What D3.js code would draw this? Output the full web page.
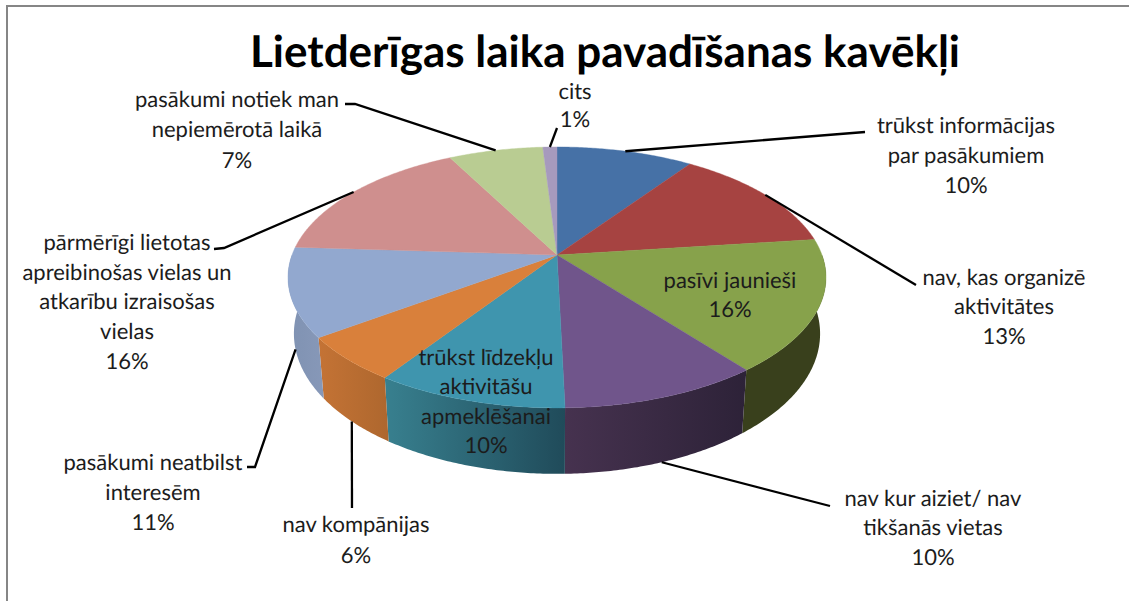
<!DOCTYPE html>
<html><head><meta charset="utf-8">
<script src="https://cdn.jsdelivr.net/npm/d3@7"></script>
<style>html,body{margin:0;padding:0;background:#fff}svg{display:block}text{font-family:Lato,"Open Sans",sans-serif;text-rendering:geometricPrecision}</style>
</head><body><svg id="c" width="1129" height="601"></svg>
<script>
const title = "Lietderīgas laika pavadīšanas kavēkļi";
const categories = [
  ["trūkst informācijas","par pasākumiem"],
  ["nav, kas organizē","aktivitātes"],
  ["pasīvi jaunieši"],
  ["nav kur aiziet/ nav","tikšanās vietas"],
  ["trūkst līdzekļu","aktivitāšu","apmeklēšanai"],
  ["nav kompānijas"],
  ["pasākumi neatbilst","interesēm"],
  ["pārmērīgi lietotas","apreibinošas vielas un","atkarību izraisošas","vielas"],
  ["pasākumi notiek man","nepiemērotā laikā"],
  ["cits"]
];
const values = [9.7,13.3,16.4,10.2,9.8,5.6,11,16.3,6.7,1.0];
const topColors = ["#4671A6","#A64341","#87A24B","#70558B","#3F95AE","#D9803B","#92A8CF","#CF8F8E","#B9CC92","#A69ABD"];
const wallLeft  = ["#345","#633","#39401C","#46324F","#38808F","#C47335","#7F92B2","#a66","#8a9","#768"];
const wallRight = ["#345","#633","#39401C","#2D2238","#204B5A","#AE672E","#8798B8","#a66","#8a9","#768"];
// label layout: centre x, first line y, line step
const labelX = [966,1004,730,933,486,356,153,127,237,575];
const labelY = [125,277,280,498,357,524,462,242,99,91];
const labelStep = [30,29.5,29,29.5,29.5,31,30,29.8,30.5,28.5];
// leader bends after leaving the pie (empty = no leader)
const leaderBends = [
  [[865,132]],
  [[916,285]],
  [],
  [[830,506]],
  [],
  [[352,508]],
  [[255,467],[247,467]],
  [[224,248],[214,249]],
  [[355,104],[345,104]],
  [[557,128]]
];

const svg = d3.select("#c");
const defs = svg.append("defs");
const cx=557, cy=255, A=265, B=126.6, P=0.172, D=54.6, shrink=0.978;

const pie = d3.pie().sort(null).startAngle(0).endAngle(2*Math.PI);
const arcs = pie(values);

function ring(a){ const x=Math.sin(a), y=-Math.cos(a), s=1/(1-P*y);
  return [cx+A*x*s, cy+B*y*s, s]; }
function bottom(a){ const [X,Y,s]=ring(a); return [cx+shrink*(X-cx), Y+D*s]; }
function samples(a0,a1){ const n=Math.max(2,Math.ceil((a1-a0)/0.01)); 
  return d3.range(n+1).map(i=>a0+(a1-a0)*i/n); }
const line=d3.line();

svg.append("rect").attr("width",1129).attr("height",601).attr("fill","#fff");
svg.append("path").attr("d","M7 601V6H1129").attr("fill","none").attr("stroke","#868686").attr("stroke-width",2);

// side walls (front half only)
arcs.forEach((d,i)=>{
  const a0=Math.max(d.startAngle,Math.PI/2), a1=Math.min(d.endAngle,Math.PI*1.5);
  if(a1<=a0) return;
  const t=samples(a0,a1);
  const pts=t.map(a=>ring(a).slice(0,2)).concat(t.slice().reverse().map(bottom));
  const xs=pts.map(p=>p[0]);
  const g=defs.append("linearGradient").attr("id","w"+i).attr("gradientUnits","userSpaceOnUse")
    .attr("x1",d3.min(xs)).attr("x2",d3.max(xs)).attr("y1",0).attr("y2",0);
  g.append("stop").attr("offset",0).attr("stop-color",wallLeft[i]);
  g.append("stop").attr("offset",1).attr("stop-color",wallRight[i]);
  svg.append("path").attr("d",line(pts)+"Z").attr("fill",`url(#w${i})`);
});
// top face
arcs.forEach((d,i)=>{
  const pts=[[cx,cy]].concat(samples(d.startAngle,d.endAngle).map(a=>ring(a).slice(0,2)));
  svg.append("path").attr("d",line(pts)+"Z").attr("fill",topColors[i]).attr("stroke",topColors[i]).attr("stroke-width",0.4);
});
// leaders
arcs.forEach((d,i)=>{
  if(!leaderBends[i].length) return;
  const m=(d.startAngle+d.endAngle)/2;
  const start=(-Math.cos(m)>0)?bottom(m):ring(m).slice(0,2);
  svg.append("path").attr("d",line([start].concat(leaderBends[i]))).attr("fill","none")
    .attr("stroke","#000").attr("stroke-width",2.3);
});
// labels
const fmt=v=>Math.round(v)+"%";
categories.forEach((lines,i)=>{
  lines.concat([fmt(values[i])]).forEach((s,j)=>{
    svg.append("text").attr("x",labelX[i]).attr("y",labelY[i]+j*labelStep[i])
      .attr("dy","0.35em").attr("text-anchor","middle").attr("font-size",22).attr("fill","#1c1c1c").text(s);
  });
});
svg.append("text").attr("x",605).attr("y",66.5).attr("text-anchor","middle")
  .attr("font-size",44).attr("font-weight",700).attr("fill","#000").text(title);
</script></body></html>
